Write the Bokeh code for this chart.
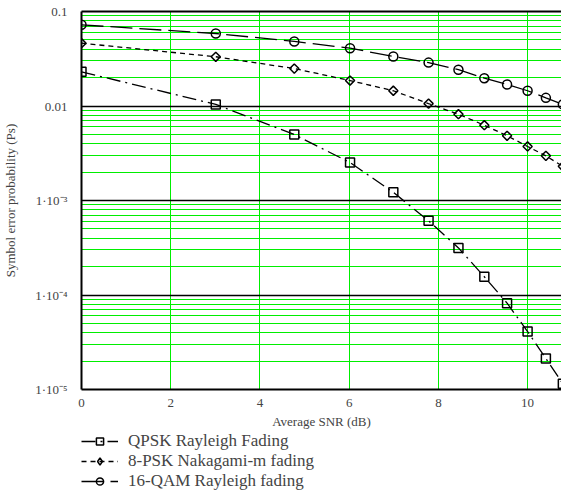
import numpy as np
from bokeh.plotting import figure
from bokeh.layouts import column
from bokeh.models import (Range1d, FixedTicker, CustomJSTickFormatter, Legend, LegendItem,
                          LinearAxis, ColumnDataSource)
from bokeh.embed import file_html
from bokeh.resources import INLINE

# ---- data ----
snr_db = [0, 3.01, 4.77, 6.02, 6.99, 7.78, 8.45, 9.03, 9.54, 10.0, 10.41, 10.79]
qpsk_rayleigh = [0.0230, 0.0104, 0.00499, 0.00252, 0.00122, 0.00061, 0.000315,
                 0.000156, 8.2e-5, 4.1e-5, 2.13e-5, 1.15e-5]
psk8_nakagami = [0.0462, 0.0332, 0.0249, 0.0186, 0.0145, 0.0106, 0.00818,
                 0.00626, 0.00484, 0.00373, 0.00297, 0.0023]
qam16_rayleigh = [0.0723, 0.0585, 0.0482, 0.0409, 0.0334, 0.0288, 0.0242,
                  0.0197, 0.0169, 0.0145, 0.0122, 0.0104]

series_names = ["QPSK Rayleigh Fading", "8-PSK Nakagami-m fading", "16-QAM Rayleigh fading"]

xtick_values = [0, 2, 4, 6, 8, 10]
ytick_values = [1e-5, 1e-4, 1e-3, 1e-2, 1e-1]
ytick_labels = ["1·10⁻⁵", "1·10⁻⁴", "1·10⁻³", "0.01", "0.1"]

x_title = "Average SNR (dB)"
y_title = "Symbol error probability (Ps)"

FONT = "Liberation Serif"
GREEN = "#00ee00"

p = figure(frame_width=480, frame_height=378, output_backend="svg", toolbar_location=None,
           y_axis_type="log",
           x_range=Range1d(0, 10.76), y_range=Range1d(1e-5, 0.1),
           min_border_left=81, min_border_right=0, min_border_top=11, min_border_bottom=41)
p.outline_line_color = None
p.background_fill_color = "white"
p.border_fill_color = "white"

# x axis
p.xaxis.ticker = FixedTicker(ticks=xtick_values)
p.xaxis.axis_label = x_title
p.xaxis.axis_line_color = "black"
p.xaxis.axis_line_width = 2
p.xaxis.major_tick_line_color = None
p.xaxis.minor_tick_line_color = None
p.xaxis.major_label_text_font = FONT
p.xaxis.major_label_text_font_size = "13px"
p.xaxis.major_label_standoff = 3
p.xaxis.axis_label_text_font = FONT
p.xaxis.axis_label_text_font_size = "13px"
p.xaxis.axis_label_text_font_style = "normal"
p.xaxis.axis_label_standoff = 4

# y axis
minor = [m * d for d in ytick_values[:-1] for m in range(2, 10)]
p.yaxis.ticker = FixedTicker(ticks=ytick_values, minor_ticks=minor)
p.yaxis.formatter = CustomJSTickFormatter(args=dict(vals=ytick_values, labs=ytick_labels), code="""
    let best = 0, d = 1e9;
    for (let i = 0; i < vals.length; i++) {
        const dd = Math.abs(Math.log10(tick) - Math.log10(vals[i]));
        if (dd < d) { d = dd; best = i; }
    }
    return labs[best];
""")
p.yaxis.axis_label = y_title
p.yaxis.axis_line_color = "black"
p.yaxis.axis_line_width = 2
p.yaxis.major_tick_line_color = None
p.yaxis.minor_tick_line_color = None
p.yaxis.major_label_text_font = FONT
p.yaxis.major_label_text_font_size = "13px"
p.yaxis.major_label_standoff = 8
p.yaxis.axis_label_text_font = FONT
p.yaxis.axis_label_text_font_size = "13px"
p.yaxis.axis_label_text_font_style = "normal"
p.yaxis.axis_label_standoff = 14

# top border
top = LinearAxis(ticker=FixedTicker(ticks=[]), axis_line_color="black", axis_line_width=2,
                 major_tick_line_color=None, minor_tick_line_color=None)
p.add_layout(top, "above")

# grids
p.xgrid.grid_line_color = GREEN
p.xgrid.grid_line_width = 1
p.ygrid.grid_line_color = "black"
p.ygrid.grid_line_width = 1.5
p.ygrid.minor_grid_line_color = GREEN
p.ygrid.minor_grid_line_width = 1

# series
series_y = [qpsk_rayleigh, psk8_nakagami, qam16_rayleigh]
styles = [
    dict(dash="14 5 2 5", marker="square", size=9, angle=0.0, lmarker="square", lsize=9),
    dict(dash="5 4", marker="square", size=6.5, angle=np.pi / 4, lmarker="diamond", lsize=11),
    dict(dash="22 7", marker="circle", size=9, angle=0.0, lmarker="circle", lsize=9),
]

sources = []
for ys, st in zip(series_y, styles):
    src = ColumnDataSource(dict(x=snr_db, y=ys))
    sources.append(src)
    p.line("x", "y", source=src, line_color="black", line_width=1.3, line_dash=st["dash"])
    p.scatter("x", "y", source=src, marker=st["marker"], size=st["size"], angle=st["angle"],
              fill_alpha=0, line_color="black", line_width=1.5)

# legend strip below the plot: same sources and styles, view range keeps the
# series themselves out of sight so only the legend samples show
lf = figure(width=561, height=61, output_backend="svg", toolbar_location=None,
            x_axis_location=None, y_axis_location=None,
            min_border=0, x_range=Range1d(100, 101), y_range=Range1d(100, 101))
lf.outline_line_color = None
lf.grid.visible = False
lf.border_fill_color = "white"
lf.background_fill_color = "white"

items = []
for name, st, src in zip(series_names, styles, sources):
    lr = lf.line("x", "y", source=src, line_color="black", line_width=1.3, line_dash=st["dash"])
    sr = lf.scatter("x", "y", source=src, marker=st["lmarker"], size=st["lsize"],
                    fill_alpha=0, line_color="black", line_width=1.5)
    items.append(LegendItem(label=name, renderers=[lr, sr]))

legend = Legend(items=items, location=(0, 1), orientation="vertical",
                label_text_font=FONT, label_text_font_size="17px",
                glyph_width=37, glyph_height=18, label_height=18, label_standoff=10,
                spacing=0, padding=0, margin=0, border_line_color=None,
                background_fill_alpha=0)
lf.add_layout(legend, "center")

open("out.html", "w").write(file_html(column(p, lf, spacing=0), INLINE))
